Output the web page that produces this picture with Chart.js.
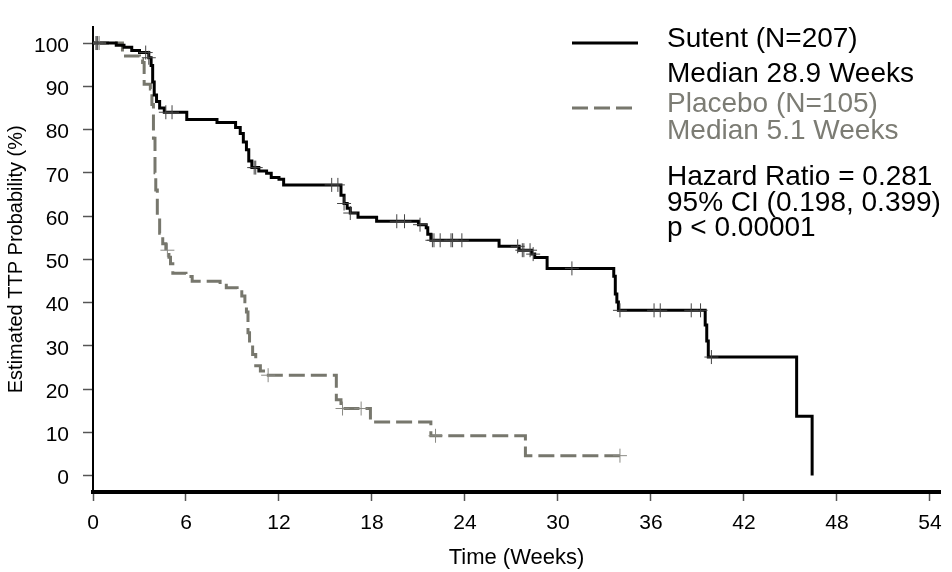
<!DOCTYPE html>
<html>
<head>
<meta charset="utf-8">
<script src="https://cdn.jsdelivr.net/npm/chart.js@4.4.1/dist/chart.umd.min.js"></script>
<style>
  html, body { margin: 0; padding: 0; background: #fff; }
  #wrap { width: 952px; height: 572px; position: relative; }
</style>
</head>
<body>
<div id="wrap"><canvas id="kmCanvas"></canvas></div>
<script>
// Kaplan-Meier steps: time (weeks) where the curve drops, and the new value (%)
const sutentWeeks = [0, 1.5, 2.0, 2.5, 3.0, 3.6, 3.75, 3.85, 3.95, 4.1, 4.3, 4.6, 6.05, 8.0,
  9.2, 9.5, 9.7, 9.9, 10.05, 10.25, 10.7, 11.2, 11.5, 12.0, 12.3,
  16.0, 16.2, 16.4, 16.6, 17.1, 18.3, 21.0, 21.5, 21.6, 21.8, 26.2, 27.5, 28.3, 28.5, 29.3,
  33.6, 33.7, 33.8, 33.9, 39.5, 39.6, 39.7, 45.4, 46.4];
const sutentProb = [100, 99.5, 99.0, 98.3, 97.8, 96.6, 94.8, 91.0, 88.0, 86.5, 85.0, 84.0, 82.3, 81.6,
  80.5, 79.1, 77.1, 75.3, 72.7, 71.2, 70.4, 69.9, 68.9, 68.5, 67.2,
  64.8, 62.9, 61.8, 60.7, 59.7, 58.8, 58.0, 57.3, 55.8, 54.4, 53.0, 52.1, 51.2, 50.4, 47.9,
  46.1, 42.0, 40.1, 38.2, 34.8, 31.1, 27.4, 13.7, 0];

const placeboWeeks = [0, 1.9, 3.0, 3.2, 3.3, 3.7, 3.8, 3.9, 4.0, 4.05, 4.15, 4.3, 4.5, 4.7, 4.9,
  5.0, 5.15, 6.0, 6.4, 8.2, 8.6, 9.3, 9.6, 9.8, 9.9, 10.0, 10.1, 10.3, 10.5, 10.8, 11.0,
  15.7, 16.0, 17.9, 21.8, 27.9, 34.0];
const placeboProb = [100, 97.0, 96.2, 95.5, 90.5, 89.4, 85.8, 78.0, 70.0, 66.0, 60.0, 56.0, 53.6, 52.1, 50.5,
  49.0, 46.8, 46.0, 44.9, 44.0, 43.4, 42.5, 41.5, 40.2, 37.8, 33.0, 30.3, 28.0, 25.4, 24.2, 23.2,
  17.5, 15.5, 12.4, 9.2, 4.6, 4.6];

// censored observations (weeks)
const sutentCensored = [0.2, 0.3, 3.4, 3.6, 4.7, 5.1, 10.4, 10.5, 15.4, 15.8, 16.2, 16.6, 19.6, 20.1,
  21.1, 21.9, 22.0, 22.4, 23.1, 23.2, 23.8, 27.4, 27.7, 27.8, 28.2, 28.4, 30.9, 34.0, 36.2, 36.6,
  38.6, 39.2, 39.9];
const placeboCensored = [0.2, 0.4, 4.8, 11.3, 16.1, 17.3, 22.1, 34.0];

const xTicks = [0, 6, 12, 18, 24, 30, 36, 42, 48, 54];
const yTicks = [0, 10, 20, 30, 40, 50, 60, 70, 80, 90, 100];

const legendLines = [
  { text: 'Sutent (N=207)', y: 39, color: '#000' },
  { text: 'Median 28.9 Weeks', y: 74, color: '#000' },
  { text: 'Placebo (N=105)', y: 104, color: '#7c7c74' },
  { text: 'Median 5.1 Weeks', y: 131, color: '#7c7c74' },
  { text: 'Hazard Ratio = 0.281', y: 177, color: '#000' },
  { text: '95% CI (0.198, 0.399)', y: 203, color: '#000' },
  { text: 'p < 0.00001', y: 228, color: '#000' }
];

const PLACEBO_COLOR = '#77776d';
const FONT = '"Liberation Sans", Arial, sans-serif';

function toPoints(xs, ys) {
  return xs.map((x, i) => ({ x: x, y: ys[i] }));
}

// value of the step curve at time t (for placing censor marks on it)
function valueAt(xs, ys, t) {
  let v = ys[0];
  for (let i = 0; i < xs.length; i++) {
    if (xs[i] <= t) v = ys[i];
  }
  return v;
}

function censorPoints(times, xs, ys) {
  return times.map(t => ({ x: t, y: valueAt(xs, ys, t) }));
}

const kmLegend = {
  id: 'kmLegend',
  afterDraw(chart) {
    const ctx = chart.ctx;
    ctx.save();
    // solid sample
    ctx.strokeStyle = '#000';
    ctx.lineWidth = 3;
    ctx.setLineDash([]);
    ctx.beginPath();
    ctx.moveTo(572, 43);
    ctx.lineTo(638, 43);
    ctx.stroke();
    // dashed sample
    ctx.strokeStyle = PLACEBO_COLOR;
    ctx.setLineDash([16, 6]);
    ctx.beginPath();
    ctx.moveTo(572, 108);
    ctx.lineTo(638, 108);
    ctx.stroke();
    ctx.setLineDash([]);

    ctx.font = '28px ' + FONT;
    ctx.textBaseline = 'middle';
    ctx.textAlign = 'left';
    legendLines.forEach(l => {
      ctx.fillStyle = l.color;
      ctx.fillText(l.text, 667, l.y);
    });
    ctx.restore();
  }
};

const ctx = document.getElementById('kmCanvas');

new Chart(ctx, {
  type: 'line',
  data: {
    datasets: [
      {
        label: 'Sutent censored',
        data: censorPoints(sutentCensored, sutentWeeks, sutentProb),
        showLine: false,
        pointStyle: 'cross',
        pointRadius: 7,
        pointBorderWidth: 1,
        pointBorderColor: '#444',
        pointBackgroundColor: '#444'
      },
      {
        label: 'Placebo censored',
        data: censorPoints(placeboCensored, placeboWeeks, placeboProb),
        showLine: false,
        pointStyle: 'cross',
        pointRadius: 7,
        pointBorderWidth: 1,
        pointBorderColor: '#8a8a84',
        pointBackgroundColor: '#8a8a84'
      },
      {
        label: 'Sutent (N=207)',
        data: toPoints(sutentWeeks, sutentProb),
        stepped: 'before',
        borderColor: '#000',
        borderWidth: 3,
        pointRadius: 0,
        fill: false,
        borderJoinStyle: 'miter'
      },
      {
        label: 'Placebo (N=105)',
        data: toPoints(placeboWeeks, placeboProb),
        stepped: 'before',
        borderColor: PLACEBO_COLOR,
        borderWidth: 3,
        borderDash: [16, 6],
        pointRadius: 0,
        fill: false,
        borderJoinStyle: 'miter'
      }
    ]
  },
  options: {
    responsive: true,
    maintainAspectRatio: false,
    animation: false,
    layout: { padding: { top: 13, right: 12, left: 0, bottom: 0 } },
    plugins: {
      legend: { display: false },
      tooltip: { enabled: false }
    },
    scales: {
      x: {
        type: 'linear',
        min: 0,
        max: 54.65,
        afterBuildTicks: s => { s.ticks = xTicks.map(v => ({ value: v })); },
        afterFit: s => { s.height = 80; },
        ticks: {
          color: '#000',
          font: { family: FONT, size: 21 },
          padding: 10,
          maxRotation: 0
        },
        grid: {
          display: true,
          drawOnChartArea: false,
          drawTicks: true,
          tickLength: 9,
          tickColor: '#555',
          tickWidth: 1.5
        },
        border: { display: true, color: '#000', width: 4 },
        title: {
          display: true,
          text: 'Time (Weeks)',
          color: '#000',
          font: { family: FONT, size: 22, lineHeight: 1 },
          padding: { top: 0, bottom: 3 }
        }
      },
      y: {
        min: -3.8,
        max: 103.8,
        afterBuildTicks: s => { s.ticks = yTicks.map(v => ({ value: v })); },
        afterFit: s => { s.width = 93; },
        ticks: {
          color: '#000',
          font: { family: FONT, size: 21 },
          padding: 14,
          labelOffset: 3
        },
        grid: {
          display: true,
          drawOnChartArea: false,
          drawTicks: true,
          tickLength: 10,
          tickColor: '#555',
          tickWidth: 1.5
        },
        border: { display: true, color: '#000', width: 2 },
        title: {
          display: true,
          text: 'Estimated TTP Probability (%)',
          color: '#000',
          font: { family: FONT, size: 20, lineHeight: 1.2 },
          padding: { top: 4, bottom: 0 }
        }
      }
    }
  },
  plugins: [kmLegend]
});
</script>
</body>
</html>
